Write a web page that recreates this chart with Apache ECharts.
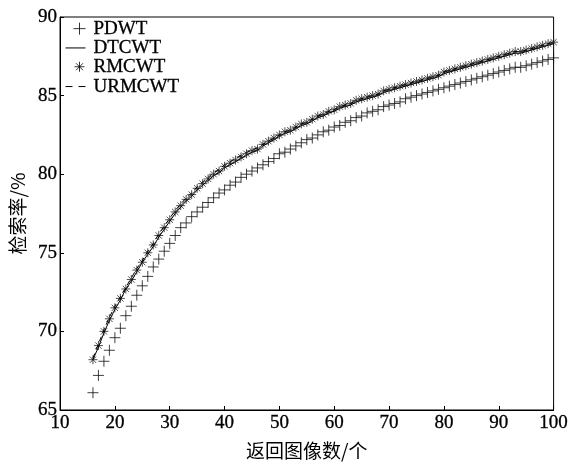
<!DOCTYPE html>
<html>
<head>
<meta charset="UTF-8">
<title>检索率</title>
<script src="https://cdn.jsdelivr.net/npm/echarts@6/dist/echarts.min.js"></script>
<style>
  html, body { margin: 0; padding: 0; background: #fff; }
  #chart { width: 571px; height: 465px; }
</style>
</head>
<body>
<div id="chart"></div>
<script>
// 返回图像数 16..100
var xs = [16,17,18,19,20,21,22,23,24,25,26,27,28,29,30,31,32,33,34,35,36,37,38,39,40,
  41,42,43,44,45,46,47,48,49,50,51,52,53,54,55,56,57,58,59,60,61,62,63,64,65,66,67,68,69,70,
  71,72,73,74,75,76,77,78,79,80,81,82,83,84,85,86,87,88,89,90,91,92,93,94,95,96,97,98,99,100];

var pdwt = [66.1,67.2,68.1,68.8,69.6,70.2,71.0,71.6,72.3,72.9,73.5,74.1,74.6,75.1,75.6,76.1,76.6,76.9,77.3,77.6,
  77.9,78.2,78.5,78.8,79.0,79.3,79.5,79.8,80.0,80.2,80.4,80.6,80.8,81.0,81.3,81.4,81.6,81.8,82.0,82.2,
  82.3,82.5,82.7,82.8,83.0,83.1,83.3,83.4,83.6,83.7,83.9,84.0,84.1,84.3,84.4,84.5,84.6,84.8,84.9,85.0,
  85.1,85.2,85.3,85.4,85.5,85.6,85.7,85.8,85.9,86.0,86.1,86.2,86.3,86.4,86.5,86.6,86.7,86.8,86.8,86.9,
  87.0,87.1,87.2,87.3,87.4];

var dtcwt = [68.2,69.0,69.9,70.7,71.4,72.0,72.7,73.2,73.8,74.4,74.9,75.4,76.0,76.5,77.0,77.5,77.9,78.3,78.6,79.0,
  79.3,79.6,79.9,80.1,80.4,80.6,80.8,81.0,81.2,81.4,81.5,81.8,82.0,82.2,82.4,82.6,82.7,82.9,83.1,83.2,
  83.4,83.6,83.7,83.9,84.0,84.2,84.3,84.4,84.6,84.7,84.8,84.9,85.0,85.2,85.3,85.4,85.5,85.6,85.7,85.8,
  85.9,86.0,86.1,86.2,86.4,86.5,86.6,86.7,86.8,86.9,87.0,87.1,87.2,87.3,87.4,87.5,87.6,87.7,87.7,87.8,
  87.9,88.0,88.1,88.2,88.3];

var rmcwt = [68.2,69.1,70.0,70.8,71.5,72.1,72.7,73.3,73.9,74.4,75.0,75.5,76.1,76.6,77.1,77.6,78.0,78.4,78.7,79.1,
  79.4,79.7,80.0,80.2,80.5,80.7,80.9,81.1,81.3,81.5,81.6,81.9,82.1,82.3,82.5,82.7,82.8,83.0,83.2,83.3,
  83.5,83.7,83.8,84.0,84.1,84.3,84.4,84.5,84.7,84.8,84.9,85.0,85.1,85.3,85.4,85.5,85.6,85.7,85.8,85.9,
  86.0,86.1,86.2,86.3,86.5,86.6,86.7,86.8,86.9,87.0,87.1,87.2,87.3,87.4,87.5,87.6,87.7,87.8,87.8,87.9,
  88.0,88.1,88.2,88.3,88.4];

var urmcwt = [68.3,69.2,70.1,70.9,71.6,72.2,72.8,73.4,74.0,74.5,75.1,75.6,76.2,76.7,77.2,77.7,78.1,78.5,78.8,79.2,
  79.5,79.8,80.1,80.3,80.6,80.8,81.0,81.2,81.4,81.5,81.7,81.9,82.1,82.3,82.5,82.7,82.8,83.0,83.2,83.3,
  83.5,83.7,83.8,84.0,84.1,84.3,84.4,84.5,84.7,84.8,84.9,85.0,85.1,85.3,85.4,85.5,85.6,85.7,85.8,85.9,
  86.0,86.1,86.2,86.3,86.5,86.6,86.7,86.8,86.9,87.0,87.1,87.2,87.3,87.4,87.5,87.6,87.7,87.8,87.8,87.9,
  88.0,88.1,88.2,88.3,88.4];

var xTicks = [10,20,30,40,50,60,70,80,90,100];
var yTicks = [65,70,75,80,85,90];

var plusIcon = 'path://M0,6L12,6M6,0L6,12';
var starIcon = 'path://M0,5L10,5M5,0L5,10M1.5,1.5L8.5,8.5M8.5,1.5L1.5,8.5';
// 图例图标（右对齐的符号、实线、虚线）
var plusLegend = 'path://M0,6M8,6L20,6M14,0L14,12';
var starLegend = 'path://M0,6M9,6L19,6M14,1L14,11M10.5,2.5L17.5,9.5M17.5,2.5L10.5,9.5M20,12';
var solidLegend = 'path://M0,0M0,6L20,6M20,12';
var dashLegend = 'path://M0,0M0,6L7,6M13,6L20,6M20,12';
var serif = '"Liberation Serif", "DejaVu Serif", serif';
var strokeOnly = { color: 'transparent', borderColor: '#000', borderWidth: 1 };

function pairs(vals){
  var out = [];
  for (var i = 0; i < xs.length; i++) {
    out.push([xs[i], vals[i]]);
  }
  return out;
}

var myChart = echarts.init(document.getElementById('chart'));
var option = {
  animation: false,
  backgroundColor: '#fff',
  grid: {
    left: 57, right: 11, top: 17, bottom: 53,
    show: true, borderColor: '#000', borderWidth: 1
  },
  legend: {
    orient: 'vertical',
    left: 60, top: 14,
    itemWidth: 20, itemHeight: 12, itemGap: 0,
    textStyle: {
      fontFamily: serif, fontSize: 19, color: '#000', lineHeight: 19, padding: [0, 0, 0, 3],
      textBorderColor: '#000', textBorderWidth: 0.3
    },
    data: [
      { name: 'PDWT', icon: plusLegend, itemStyle: strokeOnly },
      { name: 'DTCWT', icon: solidLegend, itemStyle: strokeOnly },
      { name: 'RMCWT', icon: starLegend, itemStyle: strokeOnly },
      { name: 'URMCWT', icon: dashLegend, itemStyle: strokeOnly }
    ]
  },
  xAxis: {
    type: 'value',
    min: xTicks[0], max: xTicks[xTicks.length - 1], interval: 10,
    name: '返回图像数/个',
    nameLocation: 'middle', nameGap: 31,
    nameTextStyle: { fontFamily: '"Noto Sans CJK SC"', fontSize: 19, color: '#000' },
    axisLine: { lineStyle: { color: '#000', width: 1 } },
    axisTick: { inside: true, length: 4, lineStyle: { color: '#000' } },
    axisLabel: { fontFamily: serif, fontSize: 19, color: '#000', margin: 4, textBorderColor: '#000', textBorderWidth: 0.3 },
    splitLine: { show: false }
  },
  yAxis: {
    type: 'value',
    min: yTicks[0], max: yTicks[yTicks.length - 1], interval: 5,
    name: '检索率/%',
    nameLocation: 'middle', nameGap: 30, nameRotate: 90,
    nameTextStyle: { fontFamily: '"Noto Sans CJK SC"', fontSize: 19, color: '#000' },
    axisLine: { lineStyle: { color: '#000', width: 1 } },
    axisTick: { inside: true, length: 4, lineStyle: { color: '#000' } },
    axisLabel: { fontFamily: serif, fontSize: 19, color: '#000', margin: 3, textBorderColor: '#000', textBorderWidth: 0.3 },
    splitLine: { show: false }
  },
  series: [
    {
      name: 'PDWT', type: 'scatter',
      symbol: plusIcon, symbolSize: 11,
      itemStyle: { color: 'transparent', borderColor: '#111', borderWidth: 1 },
      data: pairs(pdwt)
    },
    {
      name: 'DTCWT', type: 'line',
      symbol: 'none',
      lineStyle: { color: '#000', width: 1, type: 'solid' },
      itemStyle: { color: '#000' },
      data: pairs(dtcwt)
    },
    {
      name: 'RMCWT', type: 'scatter',
      symbol: starIcon, symbolSize: 9,
      itemStyle: { color: 'transparent', borderColor: '#222', borderWidth: 1 },
      data: pairs(rmcwt)
    },
    {
      name: 'URMCWT', type: 'line',
      symbol: 'none',
      lineStyle: { color: '#000', width: 1, type: [5, 4] },
      itemStyle: { color: '#000' },
      data: pairs(urmcwt)
    }
  ]
};
myChart.setOption(option);
</script>
</body>
</html>
